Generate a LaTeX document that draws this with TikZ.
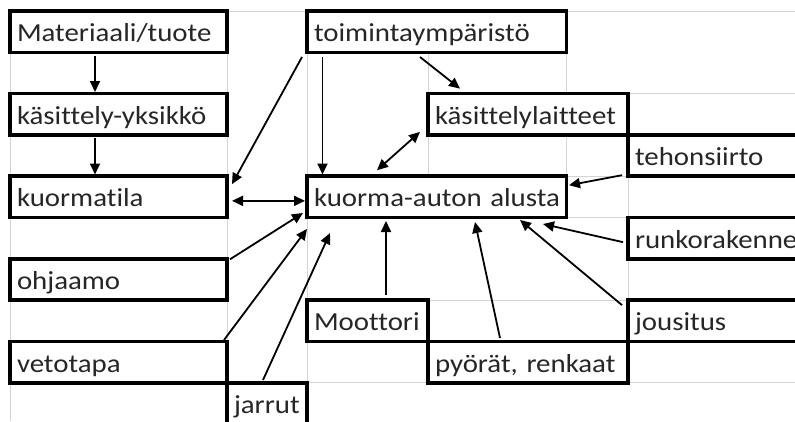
\documentclass[tikz,border=0pt]{standalone}
\usepackage{fontspec}
\setmainfont[FakeStretch=1.11, Ligatures={NoCommon, NoContextual}]{Carlito}
\usetikzlibrary{arrows.meta}
\definecolor{gridgray}{RGB}{212,212,212}
\begin{document}
\begin{tikzpicture}[x=1pt,y=-1pt,
  cell/.style={draw=black, line width=3.6pt, fill=white, anchor=north west, outer sep=0pt,
    inner xsep=7pt, inner ysep=0pt, minimum height=41.3pt, text height=20pt, text depth=0pt,
    align=left, font=\fontsize{26}{30}\selectfont, text=black!85},
  arr/.style={line width=1.8pt, -{Triangle[length=11pt,width=10pt]}},
  darr/.style={line width=1.8pt, {Triangle[length=11pt,width=10pt]}-{Triangle[length=11pt,width=10pt]}},
  gridline/.style={draw=gridgray, line width=1pt}]
\path[use as bounding box] (0,0) rectangle (795,421);
\clip (0,0) rectangle (795,421);
% grid lines
\draw[gridline] (10,11) -- (795,11);
\draw[gridline] (566,93.6) -- (795,93.6);
\draw[gridline] (566,176.2) -- (628,176.2);
\draw[gridline] (307,217.5) -- (628,217.5);
\draw[gridline] (428,300.1) -- (628,300.1);
\draw[gridline] (307,382.7) -- (795,382.7);
\draw[gridline] (10,11) -- (10,421);
\draw[gridline] (227,11) -- (227,421);
\draw[gridline] (307,11) -- (307,383);
\draw[gridline] (428,52.3) -- (428,93.6);
\draw[gridline] (428,134.9) -- (428,176.2);
\draw[gridline] (566,11) -- (566,176.2);
\draw[gridline] (628,176.2) -- (628,382.7);
% boxes
\node[cell, text width=203pt] (mat) at (10,11) {\mbox{Materiaali/tuote}};
\node[cell, text width=245.5pt] (toim) at (307,11) {\mbox{toimintaympäristö}};
\node[cell, text width=203pt] (kas) at (10,93.6) {\mbox{käsittely-yksikkö}};
\node[cell, text width=186pt] (lait) at (428,93.6) {\mbox{käsittelylaitteet}};
\node[cell, text width=186pt] (teho) at (628,134.9) {\mbox{tehonsiirto}};
\node[cell, text width=203pt] (kuorm) at (10,176.2) {\mbox{kuormatila}};
\node[cell, text width=245.5pt] (alusta) at (307,176.2) {\mbox{kuorma-auton alusta}};
\node[cell, text width=186pt] (runko) at (628,217.5) {\mbox{runkorakenne}};
\node[cell, text width=203pt] (ohj) at (10,258.8) {\mbox{ohjaamo}};
\node[cell, text width=107pt] (moot) at (307,300.1) {\mbox{Moottori}};
\node[cell, text width=186pt] (jous) at (628,300.1) {\mbox{jousitus}};
\node[cell, text width=203pt] (veto) at (10,341.4) {\mbox{vetotapa}};
\node[cell, text width=186pt] (pyor) at (428,341.4) {\mbox{pyörät, renkaat}};
\node[cell, text width=66pt] (jarr) at (227,382.7) {\mbox{jarrut}};
% connectors
\draw[arr] ([shift={(85,3.7)}]mat.south west) -- ([shift={(85,-1.6)}]kas.north west);
\draw[arr] ([shift={(85,2.6)}]kas.south west) -- ([shift={(85,-1.7)}]kuorm.north west);
\draw[arr] ([shift={(-5,4.7)}]toim.south west) -- ([shift={(5,8)}]kuorm.north east);
\draw[arr] ([shift={(15.5,4.7)}]toim.south west) -- ([shift={(15.5,-1.7)}]alusta.north west);
\draw[arr] ([shift={(113,4.7)}]toim.south west) -- ([shift={(32,-5)}]lait.north west);
\draw[darr] ([shift={(5,4)}]kuorm.east) -- ([shift={(-2,4)}]alusta.west);
\draw[darr] ([shift={(70,-6)}]alusta.north west) -- ([shift={(-8,-3)}]lait.south west);
\draw[arr] ([shift={(-6,-1)}]teho.south west) -- ([shift={(2.5,9)}]alusta.north east);
\draw[arr] ([shift={(-5,4)}]runko.west) -- ([shift={(-23.5,6.5)}]alusta.south east);
\draw[arr] ([shift={(-6,5)}]jous.north west) -- ([shift={(-46.5,2.5)}]alusta.south east);
\draw[arr] ([shift={(72,-3.4)}]pyor.north west) -- ([shift={(168,4.5)}]alusta.south west);
\draw[arr] ([shift={(79,-5)}]moot.north west) -- ([shift={(79,3.5)}]alusta.south west);
\draw[arr] ([shift={(36,-2.7)}]jarr.north west) -- ([shift={(23,15.5)}]alusta.south west);
\draw[arr] ([shift={(-3,-1.4)}]veto.north east) -- ([shift={(0,11.5)}]alusta.south west);
\draw[arr] ([shift={(3,0.5)}]ohj.north east) -- ([shift={(-4,-4.5)}]alusta.south west);
\end{tikzpicture}
\end{document}
